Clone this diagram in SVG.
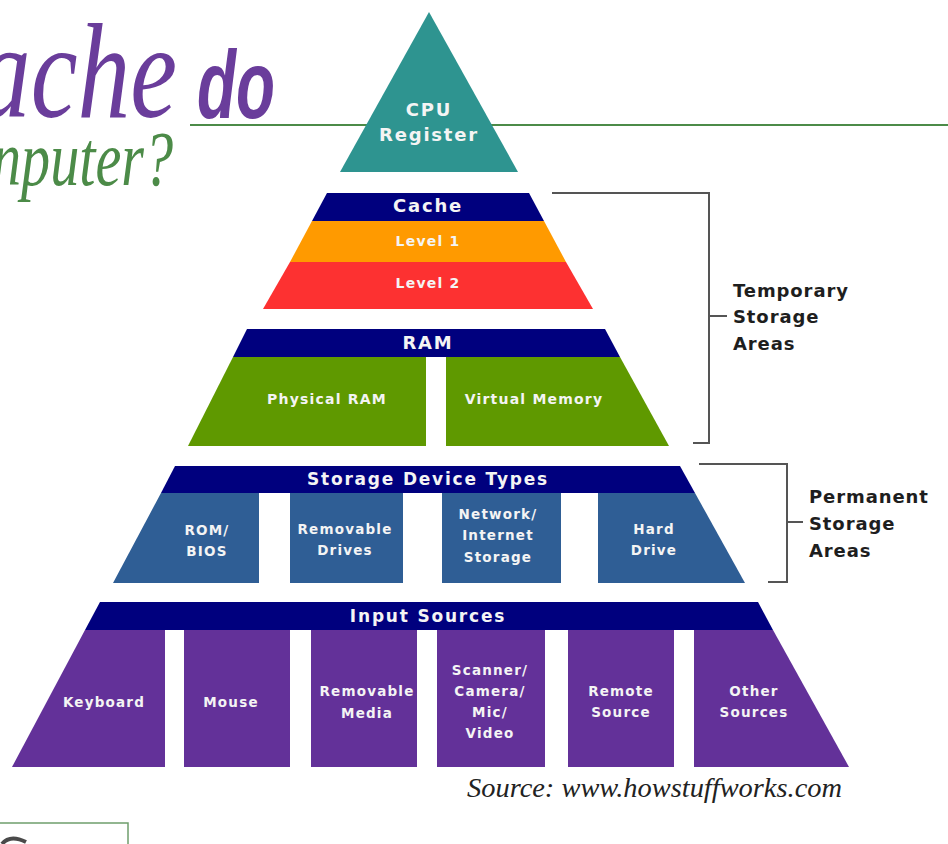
<svg xmlns="http://www.w3.org/2000/svg" width="948" height="844" viewBox="0 0 948 844">
  <style>
    .lbl { font-family: "DejaVu Sans", "Liberation Sans", sans-serif; font-weight: bold; fill: #f4f4f4; text-anchor: middle; }
    .hdr { font-size: 17px; letter-spacing: 1.8px; }
    .big { font-size: 18px; letter-spacing: 1.8px; }
    .sm { font-size: 13.5px; letter-spacing: 1.2px; }
    .md { font-size: 14px; letter-spacing: 1.2px; }
    .side { font-family: "DejaVu Sans", "Liberation Sans", sans-serif; font-weight: bold; font-size: 18px; letter-spacing: 0.9px; fill: #1e1e1e; }
    .bracket { fill: none; stroke: #555555; stroke-width: 2; }
    .navy { fill: #00007e; }
    .green { fill: #5f9900; }
    .blue { fill: #2f5e95; }
    .purple { fill: #633199; }
  </style>

  <rect width="948" height="844" fill="#ffffff"/>

  <!-- page heading -->
  <g id="heading">
    <line x1="190" y1="125" x2="948" y2="125" stroke="#4c8b48" stroke-width="2"/>
    <text x="-22" y="117" font-family="Liberation Serif, serif" font-style="italic" font-size="135" fill="#6a3d9b" textLength="199" lengthAdjust="spacingAndGlyphs">ache</text>
    <text x="197" y="118" font-family="Liberation Sans, sans-serif" font-style="italic" font-weight="bold" font-size="96" fill="#6a3d9b" textLength="78" lengthAdjust="spacingAndGlyphs">do</text>
    <text x="-8" y="185" font-family="Liberation Serif, serif" font-style="italic" font-size="78" fill="#4c8b48" textLength="181" lengthAdjust="spacingAndGlyphs">nputer?</text>
  </g>

  <!-- tier 1: CPU register -->
  <g id="cpu">
    <polygon points="429,12 340,172 518,172" fill="#2e9490"/>
    <text class="lbl big" x="429" y="116">CPU</text>
    <text class="lbl big" x="429" y="141">Register</text>
  </g>

  <!-- tier 2: cache -->
  <g id="cache">
    <polygon class="navy" points="327,193 529,193 544,221 312,221"/>
    <polygon points="312,221 544,221 566,262 290,262" fill="#ff9a00"/>
    <polygon points="290,262 566,262 593,309 263,309" fill="#fd3131"/>
    <text class="lbl big" x="428" y="212">Cache</text>
    <text class="lbl md" x="428" y="246">Level 1</text>
    <text class="lbl md" x="428" y="288">Level 2</text>
  </g>

  <!-- tier 3: RAM -->
  <g id="ram">
    <polygon class="navy" points="247,329 605,329 620,357 233,357"/>
    <polygon class="green" points="233,357 426,357 426,446 188,446"/>
    <polygon class="green" points="446,357 620,357 669,446 446,446"/>
    <text class="lbl big" x="428" y="349">RAM</text>
    <text class="lbl md" x="327" y="404">Physical RAM</text>
    <text class="lbl md" x="534" y="404">Virtual Memory</text>
  </g>

  <!-- tier 4: storage devices -->
  <g id="storage">
    <polygon class="navy" points="175,466 680,466 695,493 161,493"/>
    <polygon class="blue" points="161,493 259,493 259,583 113,583"/>
    <rect class="blue" x="290" y="493" width="113" height="90"/>
    <rect class="blue" x="442" y="493" width="119" height="90"/>
    <polygon class="blue" points="598,493 695,493 745,583 598,583"/>
    <text class="lbl hdr" x="428" y="485">Storage Device Types</text>
    <text class="lbl sm" x="207" y="535">ROM/</text>
    <text class="lbl sm" x="207" y="556">BIOS</text>
    <text class="lbl sm" x="345" y="534">Removable</text>
    <text class="lbl sm" x="345" y="555">Drives</text>
    <text class="lbl sm" x="498" y="519">Network/</text>
    <text class="lbl sm" x="498" y="540">Internet</text>
    <text class="lbl sm" x="498" y="562">Storage</text>
    <text class="lbl sm" x="654" y="534">Hard</text>
    <text class="lbl sm" x="654" y="555">Drive</text>
  </g>

  <!-- tier 5: input sources -->
  <g id="input">
    <polygon class="navy" points="100,602 758,602 773,630 85,630"/>
    <polygon class="purple" points="85,630 165,630 165,767 12,767"/>
    <rect class="purple" x="184" y="630" width="106" height="137"/>
    <rect class="purple" x="311" y="630" width="106" height="137"/>
    <rect class="purple" x="437" y="630" width="108" height="137"/>
    <rect class="purple" x="568" y="630" width="106" height="137"/>
    <polygon class="purple" points="694,630 773,630 849,767 694,767"/>
    <text class="lbl hdr" x="428" y="622">Input Sources</text>
    <text class="lbl sm" x="104" y="707">Keyboard</text>
    <text class="lbl sm" x="231" y="707">Mouse</text>
    <text class="lbl sm" x="367" y="696">Removable</text>
    <text class="lbl sm" x="367" y="718">Media</text>
    <text class="lbl sm" x="490" y="675">Scanner/</text>
    <text class="lbl sm" x="490" y="696">Camera/</text>
    <text class="lbl sm" x="490" y="717">Mic/</text>
    <text class="lbl sm" x="490" y="738">Video</text>
    <text class="lbl sm" x="621" y="696">Remote</text>
    <text class="lbl sm" x="621" y="717">Source</text>
    <text class="lbl sm" x="754" y="696">Other</text>
    <text class="lbl sm" x="754" y="717">Sources</text>
  </g>

  <!-- bracket callouts -->
  <g id="connectors">
    <path class="bracket" d="M552,193 H709 V443 H693"/>
    <path class="bracket" d="M709,316 H727"/>
    <path class="bracket" d="M699,464 H787 V582 H768"/>
    <path class="bracket" d="M787,522 H803"/>
  </g>

  <g id="temporary">
    <text class="side" x="733" y="297">Temporary</text>
    <text class="side" x="733" y="323">Storage</text>
    <text class="side" x="733" y="350">Areas</text>
  </g>

  <g id="permanent">
    <text class="side" x="809" y="503">Permanent</text>
    <text class="side" x="809" y="530">Storage</text>
    <text class="side" x="809" y="557">Areas</text>
  </g>

  <!-- credit line -->
  <text x="467" y="797" font-family="Liberation Serif, serif" font-style="italic" font-size="27" fill="#222222" textLength="375" lengthAdjust="spacingAndGlyphs">Source: www.howstuffworks.com</text>

  <!-- framed corner badge -->
  <g id="badge">
    <rect x="-2" y="823" width="130" height="30" fill="none" stroke="#6f9e6c" stroke-width="1.5"/>
    <path d="M2,844 Q10,834 26,842" fill="none" stroke="#4a4a4a" stroke-width="4"/>
  </g>
</svg>
